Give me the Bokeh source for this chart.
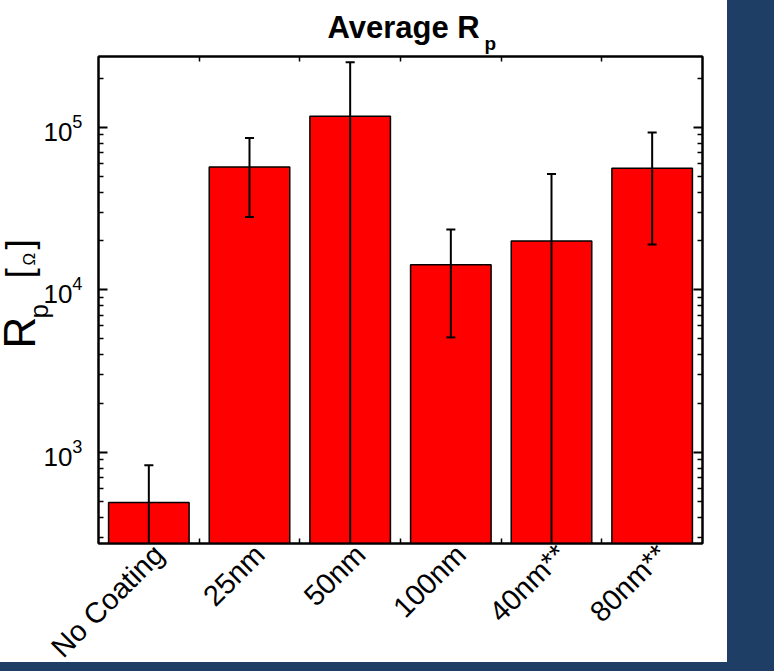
import numpy as np
from bokeh.plotting import figure
from bokeh.models import (Range1d, LogAxis, LinearAxis, FixedTicker, Label,
                          CustomJSTickFormatter, LogTickFormatter, ColumnDataSource)
from bokeh.core.properties import value
from bokeh.layouts import column
from bokeh.embed import file_html
from bokeh.resources import INLINE

# Polarisation resistance per coating, mean and standard deviation [Ohm]
categories = ["No Coating", "25nm", "50nm", "100nm", "40nm**", "80nm**"]
rp_mean = [492, 57000, 117000, 14300, 20000, 56000]
rp_std = [340, 28900, 135000, 9200, 31600, 37000]

y_major = [1e3, 1e4, 1e5]
y_minor = [k * 10.0 ** d for d in range(2, 6) for k in range(2, 10)]

n = len(categories)
x = np.arange(n) + 0.5
upper = np.array(rp_mean) + np.array(rp_std)
lower = np.array(rp_mean) - np.array(rp_std)
lower = np.where(lower > 0, lower, 1e-3)   # log axis: runs off the bottom

src = ColumnDataSource(dict(x=x, top=rp_mean, upper=upper, lower=lower))

FONT = "Liberation Sans"
BLUE = "#1F3E66"

W, H = 727, 662                      # white panel
FL, FR, FT, FB = 98, 25, 56, 119     # frame borders

chart = figure(width=W, height=H, y_axis_type="log", title=None,
               x_range=Range1d(0, n), y_range=Range1d(275, 2.73e5),
               output_backend="svg", toolbar_location=None,
               min_border_left=FL, min_border_right=FR,
               min_border_top=FT, min_border_bottom=FB,
               background_fill_color="white", border_fill_color="white")
chart.xgrid.visible = False
chart.ygrid.visible = False
chart.outline_line_color = "black"
chart.outline_line_width = 2

# bars
chart.vbar(x="x", top="top", bottom=1, width=0.8, source=src,
           fill_color="#FF0000", line_color="black", line_width=1.5)

# error bars with caps
cap = 0.045
chart.segment(x0="x", y0="lower", x1="x", y1="upper", source=src,
              line_color="black", line_width=2)
chart.segment(x0=x - cap, y0=upper, x1=x + cap, y1=upper, line_color="black", line_width=2)
chart.segment(x0=x - cap, y0=lower, x1=x + cap, y1=lower, line_color="black", line_width=2)

blank = CustomJSTickFormatter(code="return ''")


def style_axis(ax):
    ax.axis_line_width = 2
    ax.axis_line_color = "black"
    ax.major_tick_line_width = 2
    ax.minor_tick_line_width = 1.5
    ax.major_tick_out = 0
    ax.minor_tick_out = 0
    ax.major_label_text_color = "black"


# left log axis
yax = chart.yaxis[0]
yax.ticker = FixedTicker(ticks=y_major, minor_ticks=y_minor)
yax.formatter = LogTickFormatter()
style_axis(yax)
yax.major_tick_in = 9
yax.minor_tick_in = 5
yax.major_label_text_font = FONT
yax.major_label_text_font_size = "26px"
yax.major_label_standoff = 16

# mirrored right axis
rax = LogAxis(ticker=FixedTicker(ticks=y_major, minor_ticks=y_minor), formatter=blank)
style_axis(rax)
rax.major_tick_in = 9
rax.minor_tick_in = 5
chart.add_layout(rax, "right")

# bottom and top axes: ticks on the category boundaries
for loc in ("below", "above"):
    ax = chart.xaxis[0] if loc == "below" else LinearAxis()
    ax.ticker = FixedTicker(ticks=list(x), minor_ticks=list(range(1, n)))
    ax.formatter = blank
    style_axis(ax)
    ax.major_tick_in = 0
    ax.minor_tick_in = 5
    if loc == "above":
        chart.add_layout(ax, "above")

bg = (f"linear-gradient({BLUE},{BLUE}) right top / 47px 100% no-repeat, "
      f"linear-gradient({BLUE},{BLUE}) left bottom / 100% 9px no-repeat, white")
page = column(chart, width=774, height=671, sizing_mode="fixed", styles={"background": bg})

# transparent overlay (own root, pinned to the top-left corner) carrying the
# titles and the slanted category names; its x coordinate is the chart's
# category coordinate, its y coordinate counts pixels down from the top
cat_px = (W - FL - FR) / n
overlay = figure(width=W, height=H, title=None,
                 x_range=Range1d(-FL / cat_px, (W - FL) / cat_px),
                 y_range=Range1d(H, 0),
                 output_backend="svg", toolbar_location=None,
                 min_border=0, x_axis_location=None, y_axis_location=None,
                 background_fill_color=None, border_fill_color=None,
                 styles={"position": "absolute", "left": "0px", "top": "0px",
                         "z-index": "2"})
overlay.outline_line_color = None
overlay.xgrid.visible = False
overlay.ygrid.visible = False

label_src = ColumnDataSource(dict(x=x, y=[549] * n, t=categories))
overlay.text(x="x", y="y", text="t", source=label_src,
             angle=np.pi / 4, x_offset=10, text_align="right",
             text_baseline="alphabetic", text_font=value(FONT),
             text_font_size="29px", text_color="black")


def txt(text, cx, cy, size, bold=False, angle=0.0):
    """Text placed by canvas pixel position."""
    return Label(x=cx, y=H - cy, x_units="screen", y_units="screen",
                 text=text, text_font=FONT, text_font_size=f"{size}px",
                 text_font_style="bold" if bold else "normal",
                 text_color="black", angle=angle, text_baseline="alphabetic",
                 text_align="left")


up = np.pi / 2
for lab in [
    txt("Average R", 327, 27, 31, bold=True),
    txt("p", 484, 43, 19, bold=True),
    txt("R", 19, 348, 44, angle=up),
    txt("p", 38, 318, 26, angle=up),
    txt("[", 19, 278, 37, angle=up),
    txt("Ω", 29, 265, 17, angle=up),
    txt("]", 19, 249, 37, angle=up),
]:
    overlay.add_layout(lab)

open("out.html", "w").write(file_html([page, overlay], INLINE))
